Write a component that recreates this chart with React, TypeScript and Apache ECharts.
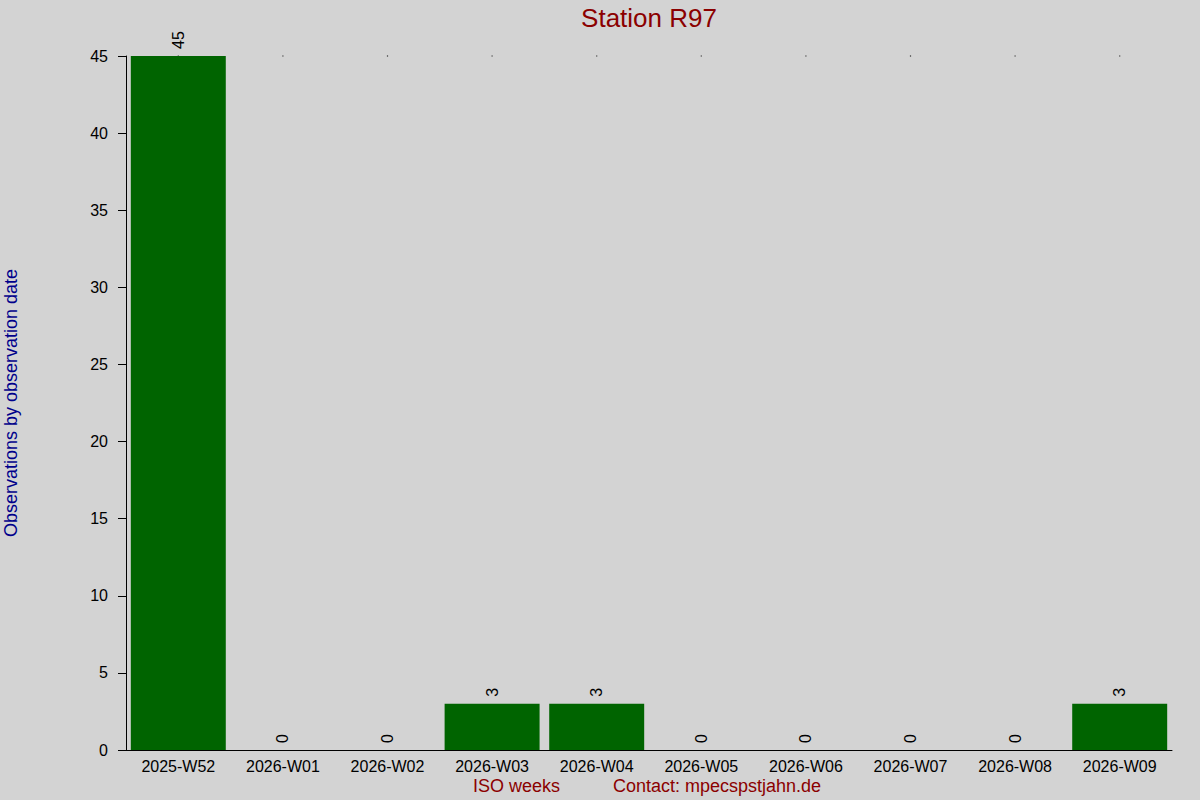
import React, { useEffect, useRef } from "react";
import * as echarts from "echarts";

const weeks = [
  "2025-W52", "2026-W01", "2026-W02", "2026-W03", "2026-W04",
  "2026-W05", "2026-W06", "2026-W07", "2026-W08", "2026-W09",
];
const observations = [45, 0, 0, 3, 3, 0, 0, 0, 0, 3];
const topMarks = [45, 45, 45, 45, 45, 45, 45, 45, 45, 45];
const yTicks = { min: 0, max: 45, interval: 5 };

const FONT = "'Liberation Sans', Arial, sans-serif";

export default function App() {
  const ref = useRef<HTMLDivElement>(null);
  useEffect(() => {
    if (!ref.current) return;
    const chart = echarts.init(ref.current, undefined, { renderer: "svg" });
    chart.setOption({
      animation: false,
      backgroundColor: "#d3d3d3",
      textStyle: { fontFamily: FONT },
      grid: { left: 126, right: 28, top: 56, bottom: 50, containLabel: false },
      xAxis: {
        type: "category",
        data: weeks,
        axisLine: { show: true, lineStyle: { color: "#000", width: 1 } },
        axisTick: { show: false },
        axisLabel: { color: "#000", fontSize: 16, fontFamily: FONT, margin: 8, interval: 0 },
        splitLine: { show: false },
      },
      yAxis: {
        type: "value",
        min: yTicks.min,
        max: yTicks.max,
        interval: yTicks.interval,
        axisLine: { show: true, lineStyle: { color: "#000", width: 1 } },
        axisTick: { show: true, length: 8, lineStyle: { color: "#000" } },
        axisLabel: { color: "#000", fontSize: 16, fontFamily: FONT, margin: 18 },
        splitLine: { show: false },
      },
      series: [
        {
          type: "bar",
          data: observations,
          barCategoryGap: "9.2%",
          itemStyle: { color: "#006400" },
          label: {
            show: true,
            position: "top",
            rotate: 90,
            align: "left",
            verticalAlign: "middle",
            distance: 7,
            color: "#000",
            fontSize: 16,
            fontFamily: FONT,
          },
        },
        {
          type: "scatter",
          data: topMarks,
          symbol: "rect",
          symbolSize: 1.2,
          itemStyle: { color: "#000" },
          z: 1,
        },
      ],
      graphic: [
        {
          type: "text",
          x: 649,
          y: 18,
          style: {
            text: "Station R97",
            fill: "#8b0000",
            fontSize: 26,
            fontFamily: FONT,
            textAlign: "center",
            textVerticalAlign: "middle",
          },
        },
        {
          type: "text",
          x: 11,
          y: 403,
          rotation: Math.PI / 2,
          style: {
            text: "Observations by observation date",
            fill: "#00008b",
            fontSize: 18,
            fontFamily: FONT,
            textAlign: "center",
            textVerticalAlign: "middle",
          },
        },
        {
          type: "text",
          x: 473,
          y: 786,
          style: {
            text: "ISO weeks",
            fill: "#8b0000",
            fontSize: 18,
            fontFamily: FONT,
            textAlign: "left",
            textVerticalAlign: "middle",
          },
        },
        {
          type: "text",
          x: 613,
          y: 786,
          style: {
            text: "Contact: mpecspstjahn.de",
            fill: "#8b0000",
            fontSize: 18,
            fontFamily: FONT,
            textAlign: "left",
            textVerticalAlign: "middle",
          },
        },
      ],
    });
    return () => chart.dispose();
  }, []);
  return (
    <div
      ref={ref}
      style={{ position: "fixed", left: 0, top: 0, width: 1200, height: 800 }}
    />
  );
}
